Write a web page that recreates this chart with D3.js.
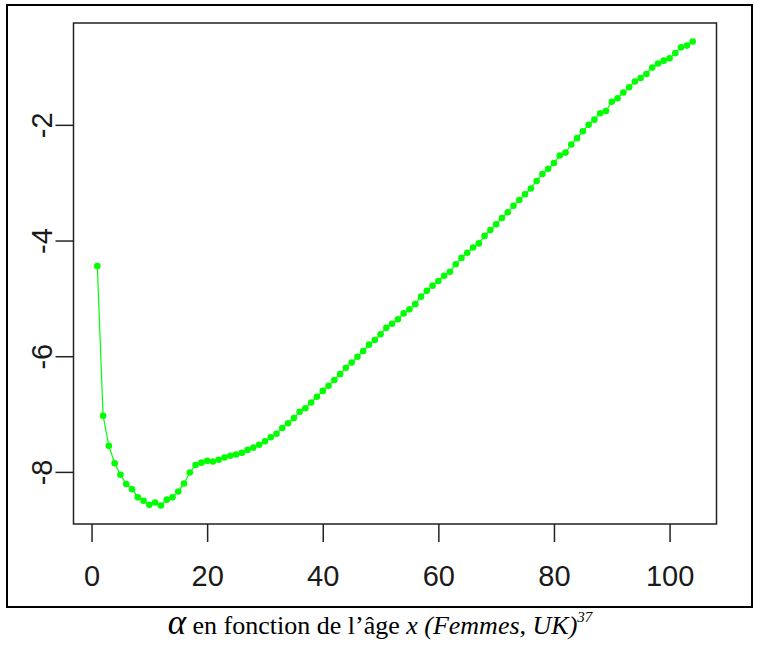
<!DOCTYPE html>
<meta charset="utf-8">
<head>
    <script src="https://d3js.org/d3.v7.min.js"></script>
    <style>
        body { margin: 0; background: #fff; }
        .tick-label { font: 29px "Liberation Sans", Arial, sans-serif; fill: #1a1a1a; }
        .caption { font-family: "Liberation Serif", "Times New Roman", serif; font-size: 26px; fill: #000; }
    </style>
    <title>alpha en fonction de l'age</title>
</head>
<body>
<svg id="chart" width="760" height="645"></svg>

<script>

    // ages 1..104
    var ages = d3.range(1, 105);

    var alpha = [
        -4.44, -7.03, -7.55, -7.85, -8.05, -8.21, -8.30, -8.44, -8.50, -8.57,
        -8.53, -8.58, -8.48, -8.44, -8.34, -8.20, -8.01, -7.88, -7.84, -7.81,
        -7.82, -7.79, -7.75, -7.72, -7.70, -7.67, -7.62, -7.58, -7.53, -7.47,
        -7.40, -7.34, -7.24, -7.16, -7.07, -6.96, -6.90, -6.80, -6.70, -6.60,
        -6.51, -6.41, -6.31, -6.20, -6.11, -6.01, -5.91, -5.80, -5.72, -5.62,
        -5.51, -5.44, -5.36, -5.26, -5.19, -5.10, -4.97, -4.87, -4.78, -4.70,
        -4.61, -4.54, -4.41, -4.30, -4.21, -4.12, -4.05, -3.92, -3.82, -3.72,
        -3.61, -3.51, -3.40, -3.30, -3.20, -3.10, -2.97, -2.85, -2.76, -2.66,
        -2.53, -2.48, -2.34, -2.23, -2.11, -2.00, -1.91, -1.80, -1.76, -1.60,
        -1.54, -1.44, -1.35, -1.25, -1.19, -1.12, -1.01, -0.94, -0.89, -0.85,
        -0.76, -0.66, -0.63, -0.56
    ];

    var xTicks = [0, 20, 40, 60, 80, 100];
    var yTicks = [-8, -6, -4, -2];

    var data = ages.map(function (a, i) { return {x: a, y: alpha[i]}; });

    var svg = d3.select("#chart");

    // outer frame
    svg.append("rect")
        .attr("x", 7).attr("y", 5)
        .attr("width", 745).attr("height", 602)
        .attr("fill", "#fff")
        .attr("stroke", "#000")
        .attr("stroke-width", 2);

    var box = {left: 73.5, right: 716.5, top: 23, bottom: 524};

    // R style 4% padding
    function padded(ext) {
        var d = (ext[1] - ext[0]) * 0.04;
        return [ext[0] - d, ext[1] + d];
    }

    var x = d3.scaleLinear()
        .domain(padded(d3.extent(ages)))
        .range([box.left, box.right]);

    var y = d3.scaleLinear()
        .domain(padded(d3.extent(alpha)))
        .range([box.bottom, box.top]);

    var g = svg.append("g");

    // x axis
    var xAxis = g.append("g")
        .attr("transform", "translate(0," + box.bottom + ")")
        .call(d3.axisBottom(x).tickValues(xTicks).tickSize(18).tickPadding(23));

    // y axis
    var yAxis = g.append("g")
        .attr("transform", "translate(" + box.left + ",0)")
        .call(d3.axisLeft(y).tickValues(yTicks).tickSize(18));

    [xAxis, yAxis].forEach(function (ax) {
        ax.select(".domain").remove();
        ax.selectAll(".tick line").attr("stroke", "#222").attr("stroke-width", 1.5);
        ax.selectAll(".tick text").attr("class", "tick-label").attr("font-size", null).attr("font-family", null);
    });

    xAxis.selectAll(".tick text").attr("dy", "0.71em");

    yAxis.selectAll(".tick text")
        .attr("x", null).attr("dy", null)
        .attr("text-anchor", "middle")
        .attr("transform", "translate(" + (42 - box.left) + ",0) rotate(-90) translate(0,10)")
        .text(function (d) { return String(d); });

    // plot box
    g.append("rect")
        .attr("x", box.left).attr("y", box.top)
        .attr("width", box.right - box.left).attr("height", box.bottom - box.top)
        .attr("fill", "none")
        .attr("stroke", "#222")
        .attr("stroke-width", 1.5);

    // line + points
    var line = d3.line()
        .x(function (d) { return x(d.x); })
        .y(function (d) { return y(d.y); });

    g.append("path")
        .datum(data)
        .attr("d", line)
        .attr("fill", "none")
        .attr("stroke", "#00ff00")
        .attr("stroke-width", 1.2);

    g.selectAll("circle.pt")
        .data(data)
        .enter().append("circle")
        .attr("class", "pt")
        .attr("cx", function (d) { return x(d.x); })
        .attr("cy", function (d) { return y(d.y); })
        .attr("r", 3.3)
        .attr("fill", "#00ff00");

    // caption
    var cap = svg.append("text")
        .attr("class", "caption")
        .attr("x", 380).attr("y", 634)
        .attr("text-anchor", "middle");

    cap.append("tspan").attr("font-style", "italic").attr("font-size", "35px").text("α");
    cap.append("tspan").text("  en fonction de l’âge ");
    cap.append("tspan").attr("font-style", "italic").text("x (Femmes, UK)");
    cap.append("tspan").attr("font-style", "italic").attr("font-size", "15px").attr("dy", "-12").text("37");

</script>
</body>
